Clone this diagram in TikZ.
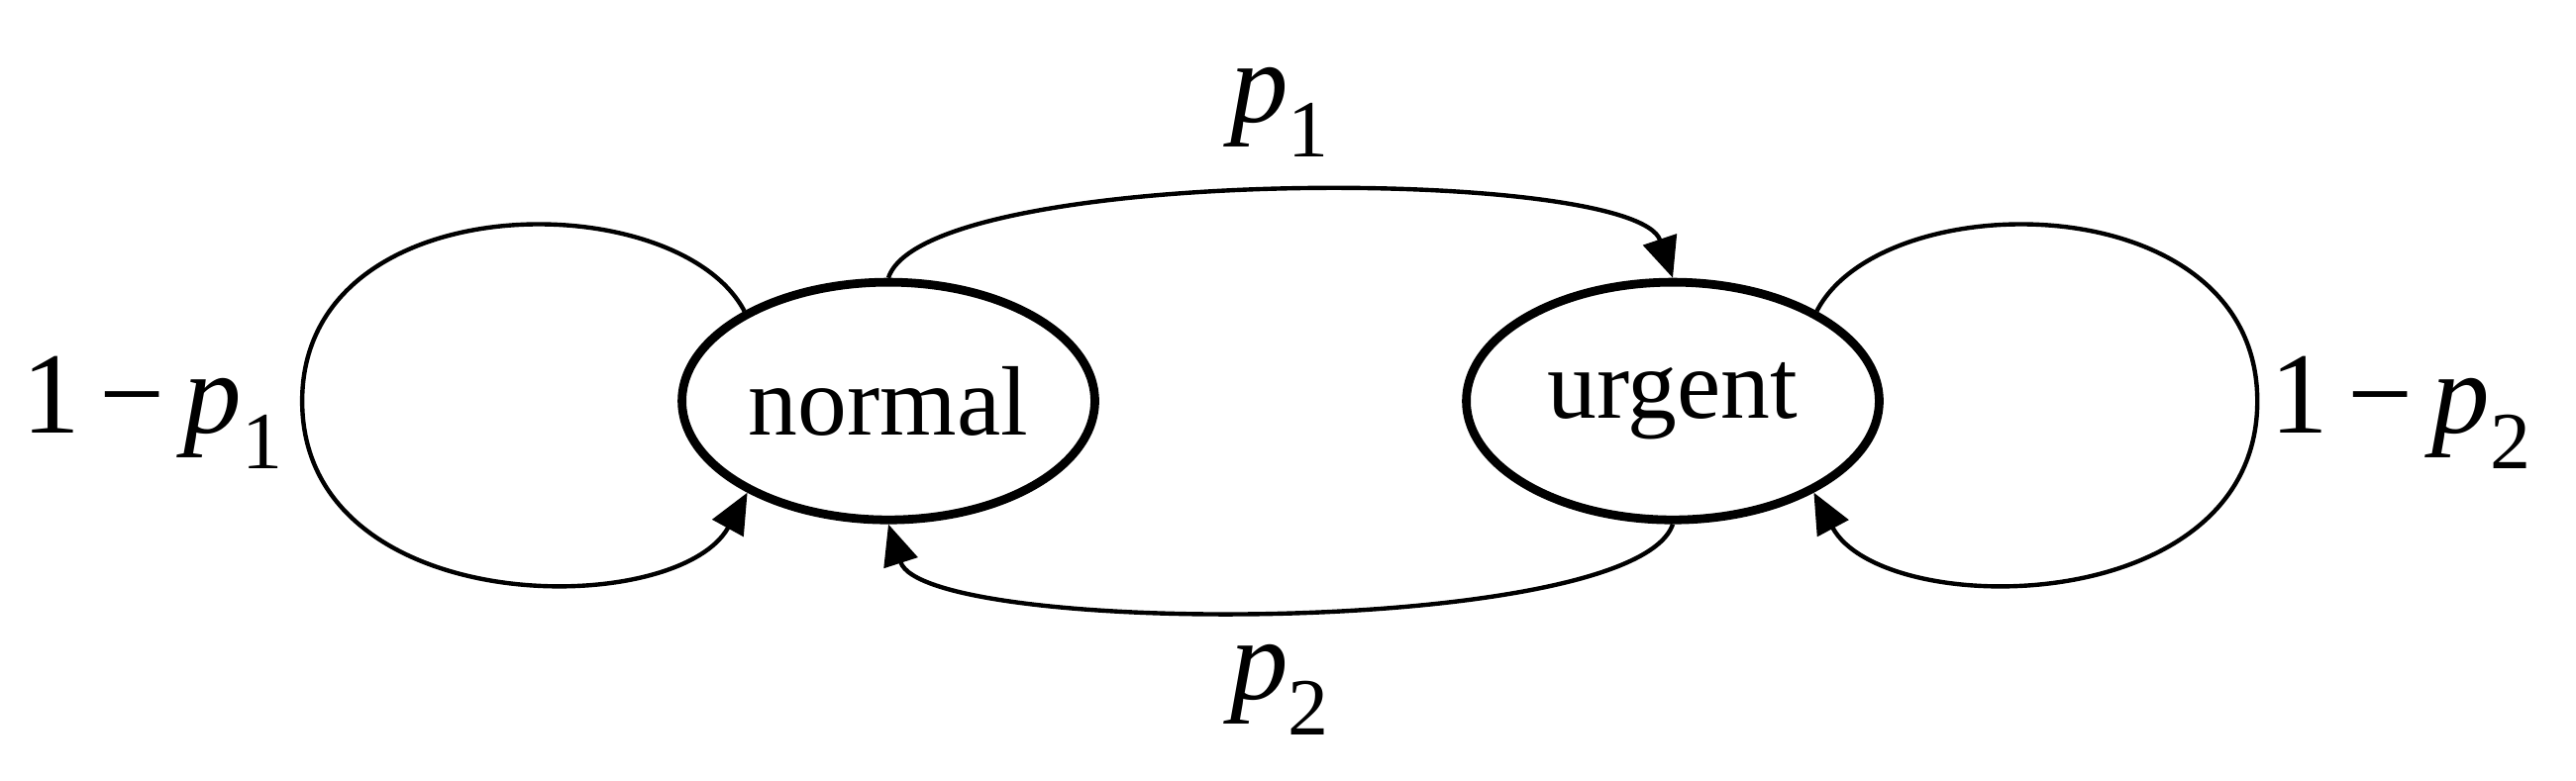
\documentclass[tikz,border=0pt]{standalone}
\usepackage{fontspec}
\setmainfont{Liberation Serif}
\usetikzlibrary{shapes.geometric,arrows.meta}
\newcommand{\pp}[1]{\textit{p}\raisebox{-0.3em}{\fontsize{14}{17}\selectfont #1}}
\begin{document}
\begin{tikzpicture}[
  state/.style={draw,ellipse,line width=1.5pt,minimum width=2.5cm,minimum height=1.44cm,inner sep=0pt,font=\fontsize{17}{20}\selectfont},
  conn/.style={line width=0.75pt,-{Triangle[length=7pt,width=6pt]}},
  lbl/.style={font=\fontsize{20}{24}\selectfont,inner sep=0pt}]
\useasboundingbox (0,0) rectangle (15.60,4.73);
\node[state] (n) at (5.38,2.30) {normal};
\node[state] (u) at (10.13,2.30) {urgent};
\draw[conn] (n.north) .. controls (5.6,3.73) and (9.9,3.73) .. (u.north);
\draw[conn] (u.south) .. controls (9.9,0.87) and (5.6,0.87) .. (n.south);
\draw[conn] (n.148) .. controls (4.1,3.62) and (1.83,3.62) .. (1.83,2.30)
  .. controls (1.83,0.97) and (4.1,0.97) .. (n.-147);
\draw[conn] (u.32) .. controls (11.4,3.62) and (13.67,3.62) .. (13.67,2.30)
  .. controls (13.67,0.97) and (11.4,0.97) .. (u.-33);
\node[lbl] (l1) at (7.75,4.05) {\pp{1}};
\node[lbl] (l2) at (7.75,0.55) {\pp{2}};
\node[lbl,anchor=east] (l3) at (1.72,2.23) {1\,−\,\pp{1}};
\node[lbl,anchor=west] (l4) at (13.74,2.23) {1\,−\,\pp{2}};
\end{tikzpicture}
\end{document}
